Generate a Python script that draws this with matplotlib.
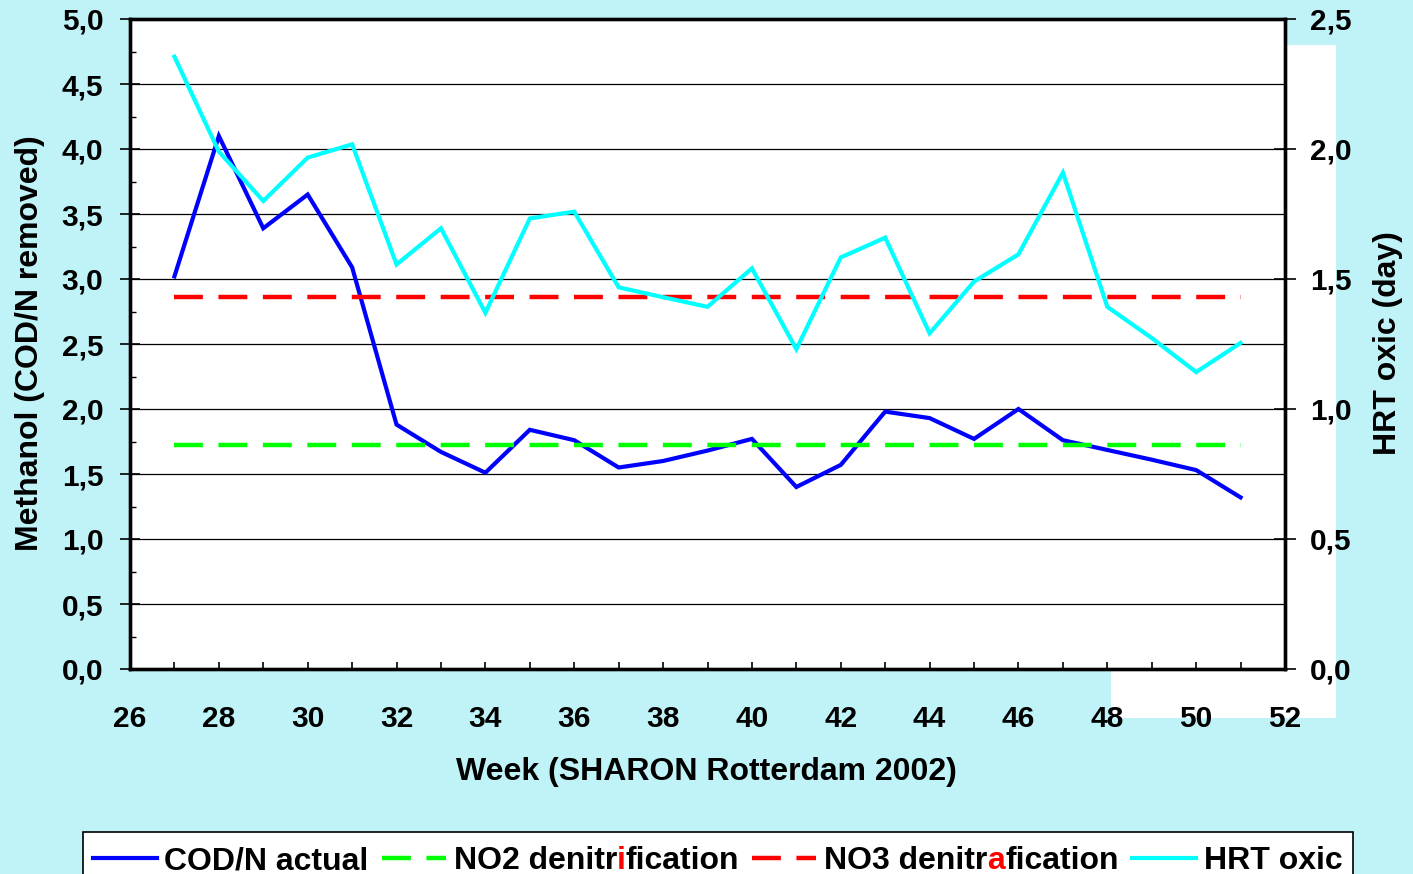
import matplotlib
matplotlib.use('Agg')
import matplotlib.pyplot as plt
from matplotlib.ticker import MultipleLocator, FuncFormatter
from matplotlib.patches import Rectangle
from matplotlib.lines import Line2D
from matplotlib.font_manager import FontProperties
from matplotlib.offsetbox import HPacker, VPacker, TextArea, DrawingArea, AnchoredOffsetbox

# ---- data ----
weeks = list(range(27, 52))
cod_n_actual = [3.02, 4.10, 3.39, 3.65, 3.09, 1.88, 1.67, 1.51, 1.84, 1.76,
                1.55, 1.60, 1.68, 1.77, 1.40, 1.57, 1.98, 1.93, 1.77, 2.00,
                1.76, 1.685, 1.61, 1.53, 1.32]
hrt_oxic = [2.355, 1.99, 1.80, 1.967, 2.018, 1.556, 1.695, 1.37, 1.733, 1.759,
            1.468, 1.43, 1.393, 1.541, 1.23, 1.583, 1.659, 1.291, 1.49, 1.595,
            1.909, 1.393, 1.273, 1.142, 1.254]
no2_level = 1.72
no3_level = 2.86
no2_denitrification = [no2_level] * len(weeks)
no3_denitrification = [no3_level] * len(weeks)
# legend labels: (before, highlighted letter, after)
legend_labels = [('COD/N actual', '', ''),
                 ('NO2 denitr', 'i', 'fication'),
                 ('NO3 denitr', 'a', 'fication'),
                 ('HRT oxic', '', '')]

plt.rcParams['font.family'] = ['Liberation Sans', 'DejaVu Sans']
plt.rcParams['font.weight'] = 'bold'

W, H = 1413, 874
BG = '#BFF3F7'
fig = plt.figure(figsize=(W / 100, H / 100), dpi=100, facecolor=BG)

# white block behind the right side
fig.add_artist(Rectangle((1111 / W, (H - 718) / H), 225 / W, 673 / H,
                         transform=fig.transFigure, facecolor='white',
                         edgecolor='none', zorder=-1))

ax = fig.add_axes([130 / W, (H - 669) / H, 1155 / W, 650 / H])
ax.set_facecolor('white')
ax2 = ax.twinx()

dash = (0, (6.5, 3.5))
styles = [dict(color='#0000FF', lw=3, linestyle='-'),
          dict(color='#00FF00', lw=3.2, linestyle=dash),
          dict(color='#FF0000', lw=3.2, linestyle=dash),
          dict(color='#00FFFF', lw=3, linestyle='-')]

ax.plot(weeks, cod_n_actual, solid_joinstyle='miter', **styles[0])
ax.plot(weeks, no2_denitrification, **styles[1])
ax.plot(weeks, no3_denitrification, **styles[2])
ax2.plot(weeks, hrt_oxic, solid_joinstyle='miter', **styles[3])

ax.set_xlim(26, 52)
ax.set_ylim(0, 5)
ax2.set_ylim(0, 2.5)

fmt = FuncFormatter(lambda v, p: f'{v:.1f}'.replace('.', ','))
ax.yaxis.set_major_locator(MultipleLocator(0.5))
ax.yaxis.set_minor_locator(MultipleLocator(0.25))
ax.yaxis.set_major_formatter(fmt)
ax2.yaxis.set_major_locator(MultipleLocator(0.5))
ax2.yaxis.set_major_formatter(fmt)
ax.xaxis.set_major_locator(MultipleLocator(2))
ax.xaxis.set_minor_locator(MultipleLocator(1))

ax.tick_params(axis='y', which='major', direction='inout', length=14.5, width=1.2,
               labelsize=21.5, pad=12)
ax.tick_params(axis='y', which='minor', direction='in', length=4.5, width=1.0)
ax.tick_params(axis='x', which='both', direction='in', length=5, width=1.2,
               labelsize=21.5, pad=26)
ax2.tick_params(axis='y', which='major', direction='inout', length=16, width=1.2,
                labelsize=21.5, pad=10)

ax.grid(axis='y', which='major', color='black', lw=0.9)
ax.set_axisbelow(True)
for a in (ax, ax2):
    for s in a.spines.values():
        s.set_linewidth(2.4)
        s.set_color('black')

fig.text(30 / W, (H - 343) / H, 'Methanol (COD/N removed)', rotation=90,
         ha='center', va='center', fontsize=23, fontweight='bold')
fig.text(1388 / W, (H - 343) / H, 'HRT oxic (day)', rotation=90,
         ha='center', va='center', fontsize=23, fontweight='bold')
fig.text(706.5 / W, (H - 772) / H, 'Week (SHARON Rotterdam 2002)',
         ha='center', va='center', fontsize=23, fontweight='bold')

# ---- legend (built from packers so single letters can be red) ----
PX = 0.72  # points per pixel at 100 dpi
fs = 23
handle_w, handle_h = 64 * PX, 30 * PX
entries = []
for (before, mid, after), st in zip(legend_labels, styles):
    da = DrawingArea(handle_w, handle_h, 0, 0)
    yl = handle_h / 2 + 3.5 * PX
    da.add_artist(Line2D([0, handle_w], [yl, yl], color=st['color'], lw=st['lw'],
                         linestyle=st['linestyle']))
    parts = [TextArea(before, textprops=dict(fontsize=fs, fontweight='bold', color='black'))]
    if mid:
        parts.append(TextArea(mid, textprops=dict(fontsize=fs, fontweight='bold', color='#FF0000')))
        parts.append(TextArea(after, textprops=dict(fontsize=fs, fontweight='bold', color='black')))
    label = HPacker(children=parts, sep=0, pad=0, align='baseline')
    entries.append(HPacker(children=[da, label], sep=8 * PX, pad=0, align='center'))
row = HPacker(children=entries, sep=13 * PX, pad=0, align='center')
spacer = DrawingArea(1, 4 * PX, 0, 0)
content = VPacker(children=[spacer, row], sep=0, pad=0, align='left')
box = AnchoredOffsetbox(loc='upper center', child=content, pad=10 * PX / fs,
                        borderpad=0, frameon=True,
                        bbox_to_anchor=(717.5 / W, (H - 832) / H),
                        bbox_transform=fig.transFigure,
                        prop=dict(size=fs))
box.patch.set_boxstyle('square', pad=0)
box.patch.set_facecolor('white')
box.patch.set_edgecolor('black')
box.patch.set_linewidth(1.2)
box.set_zorder(10)
fig.add_artist(box)

fig.savefig('out.png', dpi=100, facecolor=BG)
